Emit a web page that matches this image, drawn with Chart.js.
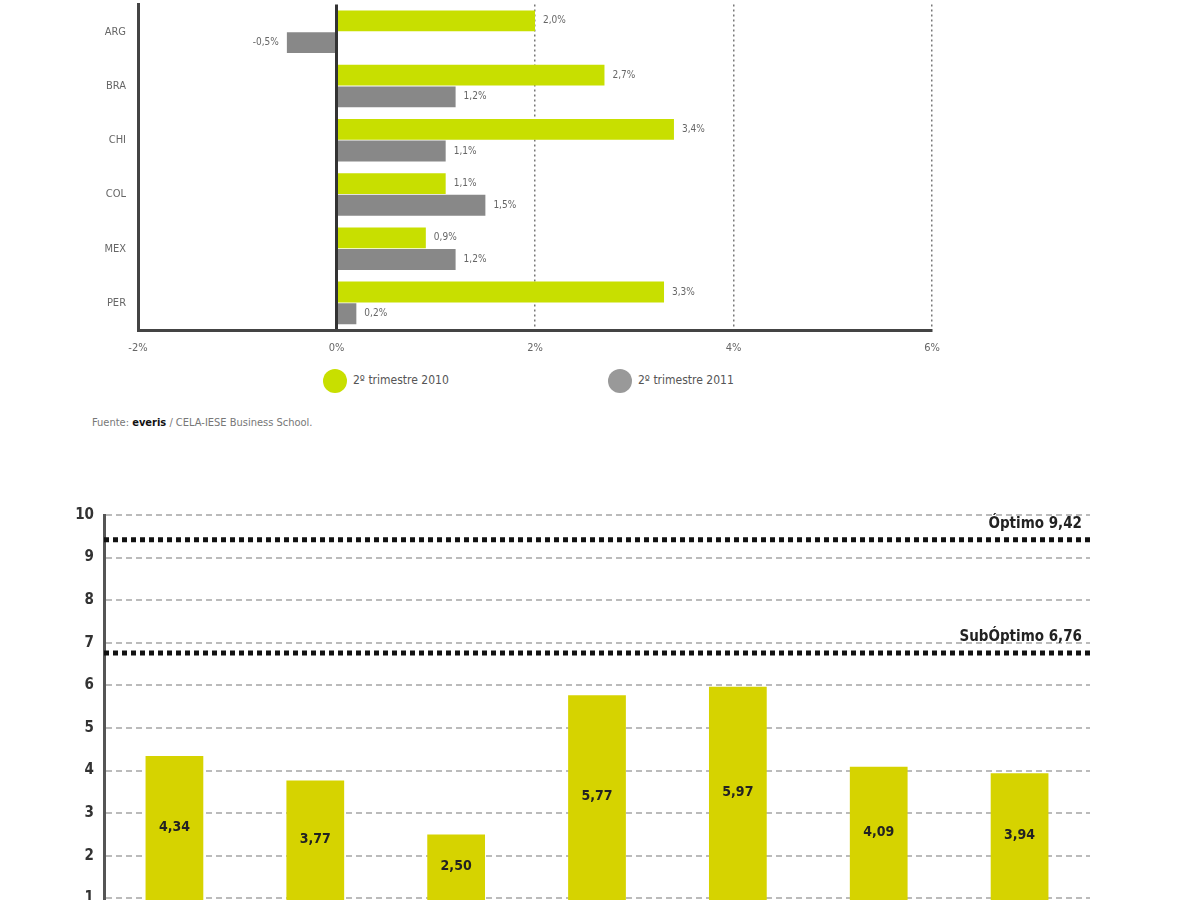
<!DOCTYPE html>
<html>
<head>
<meta charset="utf-8">
<script src="https://cdn.jsdelivr.net/npm/chart.js@4.4.1/dist/chart.umd.min.js"></script>
<style>
  html, body { margin: 0; padding: 0; background: #fff; overflow: hidden; width: 1200px; height: 900px; }
  body { position: relative; font-family: "Liberation Sans Narrow", "DejaVu Sans Condensed", "Liberation Sans", Arial, sans-serif; }
  #top { position: absolute; left: 0; top: -14px; }
  #bottom { position: absolute; left: 0; top: 490px; }
  .legend { position: absolute; top: 368px; font-size: 12px; color: #555; height: 24px; line-height: 24px; }
  .legend span.dot { display: inline-block; width: 24px; height: 24px; border-radius: 50%; vertical-align: middle; margin-right: 6px; }
  .source { position: absolute; left: 92px; top: 416px; font-size: 11px; color: #777; }
  .source b { color: #111; }
</style>
</head>
<body>
<canvas id="top" width="1200" height="379"></canvas>
<div class="legend" style="left:323px"><span class="dot" style="background:#c8df00"></span>2º trimestre 2010</div>
<div class="legend" style="left:608px"><span class="dot" style="background:#999"></span>2º trimestre 2011</div>
<div class="source">Fuente: <b>everis</b> / CELA-IESE Business School.</div>
<canvas id="bottom" width="1200" height="470"></canvas>
<script>
// top chart: growth by country, 2nd quarter
let countries = ['ARG', 'BRA', 'CHI', 'COL', 'MEX', 'PER'];
let q2010 = [2.0, 2.7, 3.4, 1.1, 0.9, 3.3];
let q2011 = [-0.5, 1.2, 1.1, 1.5, 1.2, 0.2];
let seriesNames = ['2º trimestre 2010', '2º trimestre 2011'];

// bottom chart: scores
let barNames = ['1', '2', '3', '4', '5', '6', '7'];
let scores = [4.34, 3.77, 2.50, 5.77, 5.97, 4.09, 3.94];
let thresholdValues = [9.42, 6.76];
let thresholdLabels = ['Óptimo 9,42', 'SubÓptimo 6,76'];

let narrow = '"Liberation Sans Narrow", "DejaVu Sans Condensed", "Liberation Sans", Arial, sans-serif';

function comma(v, d) {
  return v.toFixed(d).replace('.', ',');
}

// value labels next to the horizontal bars
let pctLabels = {
  id: 'pctLabels',
  afterDatasetsDraw(chart) {
    let ctx = chart.ctx;
    ctx.save();
    ctx.font = '10px ' + narrow;
    ctx.fillStyle = '#666';
    ctx.textBaseline = 'middle';
    chart.data.datasets.forEach((ds, i) => {
      chart.getDatasetMeta(i).data.forEach((bar, j) => {
        let v = ds.data[j];
        let txt = comma(v, 1) + '%';
        if (v >= 0) {
          ctx.textAlign = 'left';
          ctx.fillText(txt, bar.x + 8, bar.y);
        } else {
          ctx.textAlign = 'right';
          ctx.fillText(txt, bar.x - 8, bar.y);
        }
      });
    });
    ctx.restore();
  }
};

new Chart(document.getElementById('top'), {
  type: 'bar',
  data: {
    labels: countries,
    datasets: [
      { label: seriesNames[0], data: q2010, backgroundColor: '#c8df00', categoryPercentage: 0.8, barPercentage: 0.96 },
      { label: seriesNames[1], data: q2011, backgroundColor: '#888888', categoryPercentage: 0.8, barPercentage: 0.96 }
    ]
  },
  options: {
    indexAxis: 'y',
    responsive: false,
    animation: false,
    layout: { padding: { top: 3, right: 268, left: 0, bottom: 0 } },
    plugins: { legend: { display: false }, tooltip: { enabled: false } },
    scales: {
      x: {
        min: -2, max: 6,
        ticks: { stepSize: 2, padding: 12, color: '#666', font: { family: narrow, size: 11 }, callback: v => v + '%' },
        grid: {
          drawTicks: false,
          color: c => (c.tick && c.tick.value === 0) ? '#333' : (c.tick && c.tick.value === -2 ? 'rgba(0,0,0,0)' : '#777'),
          lineWidth: c => (c.tick && c.tick.value === 0) ? 3 : 1.5
        },
        border: {
          color: '#444', width: 3,
          dash: c => (c.tick && c.tick.value !== 0) ? [2, 3] : []
        },
        afterFit: s => { s.height = 35; }
      },
      y: {
        ticks: { padding: 12, color: '#666', font: { family: narrow, size: 11 } },
        grid: { display: false, drawTicks: false },
        border: { color: '#444', width: 3 },
        afterFit: s => { s.width = 138; }
      }
    }
  },
  plugins: [pctLabels]
});

// optimum / sub-optimum dotted lines
let thresholds = {
  id: 'thresholds',
  afterDatasetsDraw(chart) {
    let ctx = chart.ctx;
    let area = chart.chartArea;
    let y = chart.scales.y;
    ctx.save();
    thresholdValues.forEach((v, i) => {
      let py = y.getPixelForValue(v);
      ctx.strokeStyle = '#111';
      ctx.lineWidth = 5;
      ctx.setLineDash([5, 4]);
      ctx.beginPath();
      ctx.moveTo(area.left, py);
      ctx.lineTo(area.right, py);
      ctx.stroke();
      ctx.setLineDash([]);
      ctx.font = 'bold 15px ' + narrow;
      ctx.fillStyle = '#222';
      ctx.textAlign = 'right';
      ctx.textBaseline = 'bottom';
      ctx.fillText(thresholdLabels[i], area.right - 8, py - 8);
    });
    ctx.restore();
  }
};

// score labels inside the bars
let scoreLabels = {
  id: 'scoreLabels',
  afterDatasetsDraw(chart) {
    let ctx = chart.ctx;
    let y = chart.scales.y;
    ctx.save();
    ctx.font = 'bold 14px ' + narrow;
    ctx.fillStyle = '#222';
    ctx.textAlign = 'center';
    ctx.textBaseline = 'middle';
    chart.getDatasetMeta(0).data.forEach((bar, j) => {
      let v = scores[j];
      let py = (y.getPixelForValue(v) + y.getPixelForValue(1)) / 2;
      ctx.fillText(comma(v, 2), bar.x, py);
    });
    ctx.restore();
  }
};

new Chart(document.getElementById('bottom'), {
  type: 'bar',
  data: {
    labels: barNames,
    datasets: [{ data: scores, backgroundColor: '#d6d300', categoryPercentage: 1, barPercentage: 0.41 }]
  },
  options: {
    responsive: false,
    animation: false,
    layout: { padding: { top: 25, right: 110, left: 0, bottom: 14 } },
    plugins: { legend: { display: false }, tooltip: { enabled: false } },
    scales: {
      x: { display: false },
      y: {
        min: 0, max: 10,
        ticks: { stepSize: 1, padding: 10, color: '#333', font: { family: narrow, size: 15, weight: 'bold' } },
        grid: { drawTicks: false, color: '#bbb', lineWidth: 2 },
        border: { color: '#555', width: 3, dash: [6, 4] },
        afterFit: s => { s.width = 104; }
      }
    }
  },
  plugins: [thresholds, scoreLabels]
});
</script>
</body>
</html>
